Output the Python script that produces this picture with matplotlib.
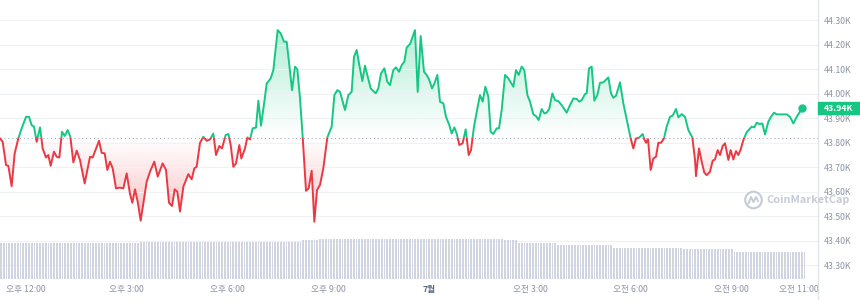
import numpy as np
import matplotlib
matplotlib.use("Agg")
import matplotlib.pyplot as plt
import matplotlib.colors as mcolors
from matplotlib.patches import Rectangle, Circle
from matplotlib.lines import Line2D
from matplotlib.path import Path
from matplotlib.transforms import IdentityTransform

# Korean labels need a CJK font, DejaVu as fallback
plt.rcParams['font.family'] = ['Noto Sans CJK KR', 'DejaVu Sans']

# Price trace (hours after 12:00 PM, price in thousands USD)
hours = [-0.774, -0.694, -0.595, -0.526, -0.427, -0.337, -0.228, -0.129, 0.000, 0.089,
         0.169, 0.238, 0.317, 0.417, 0.496, 0.595, 0.665, 0.734, 0.833, 0.913,
         0.992, 1.071, 1.151, 1.240, 1.319, 1.409, 1.508, 1.607, 1.746, 1.905,
         1.984, 2.173, 2.252, 2.341, 2.421, 2.500, 2.579, 2.679, 2.798, 2.897,
         2.996, 3.095, 3.165, 3.244, 3.323, 3.413, 3.591, 3.690, 3.819, 3.919, 4.067,
         4.167, 4.256, 4.345, 4.425, 4.504, 4.583, 4.683, 4.831, 4.931, 5.010,
         5.079, 5.179, 5.278, 5.377, 5.476, 5.575, 5.655, 5.754, 5.833, 5.942,
         6.022, 6.091, 6.171, 6.250, 6.349, 6.409, 6.518, 6.587, 6.667, 6.746,
         6.845, 6.915, 6.994, 7.093, 7.163, 7.282, 7.361, 7.490, 7.579, 7.679,
         7.758, 7.837, 7.917, 8.006, 8.075, 8.155, 8.234, 8.333, 8.413, 8.502,
         8.581, 8.661, 8.750,
         8.849, 8.968, 9.097, 9.177, 9.266, 9.345, 9.494, 9.593, 9.692, 9.762,
         9.841, 9.921, 10.010, 10.089, 10.159, 10.258, 10.407, 10.486, 10.565, 10.665,
         10.754, 10.833, 10.933, 11.012, 11.101, 11.181, 11.260, 11.329, 11.429, 11.577,
         11.657, 11.746, 11.845, 11.925, 12.004, 12.083, 12.153, 12.242, 12.321, 12.421,
         12.500, 12.599, 12.669, 12.748, 12.817, 12.897, 12.996, 13.085, 13.175, 13.244,
         13.333, 13.433, 13.512, 13.591,
         13.671, 13.760, 13.829, 13.909, 14.008, 14.077, 14.157, 14.256, 14.355, 14.504,
         14.583, 14.663, 14.752, 14.831, 14.921, 15.000, 15.099, 15.179, 15.258, 15.347,
         15.427, 15.496, 15.575, 15.665, 15.744, 15.843, 15.942, 16.091, 16.190, 16.290,
         16.389, 16.468, 16.538, 16.637, 16.687, 16.756, 16.835, 16.915, 17.004, 17.083,
         17.183, 17.331, 17.411, 17.480, 17.560, 17.679, 17.778, 17.996, 18.075, 18.155,
         18.254, 18.353,
         18.403, 18.452, 18.512, 18.591, 18.671, 18.750, 18.819, 18.899, 18.988, 19.067,
         19.167, 19.246, 19.345, 19.415, 19.514, 19.613, 19.712, 19.831, 19.911, 19.940,
         20.030, 20.109, 20.188, 20.258, 20.357, 20.437, 20.506, 20.585, 20.655, 20.734,
         20.804, 20.903, 20.972, 21.052, 21.131, 21.200, 21.270, 21.349, 21.448, 21.597,
         21.677, 21.746, 21.825, 21.915, 21.994, 22.093, 22.173, 22.262, 22.341, 22.490,
         22.639, 22.738, 22.837, 22.937, 23.016, 23.105]

price = [43.817, 43.803, 43.708, 43.705, 43.622, 43.756, 43.817, 43.858, 43.905, 43.905,
         43.871, 43.865, 43.803, 43.862, 43.776, 43.739, 43.749, 43.705, 43.763, 43.742,
         43.739, 43.844, 43.827, 43.851, 43.824, 43.719, 43.767, 43.729, 43.633, 43.742,
         43.739, 43.807, 43.758, 43.756, 43.688, 43.722, 43.695, 43.613, 43.616, 43.613,
         43.674, 43.590, 43.554, 43.609, 43.559, 43.481, 43.640, 43.681, 43.722, 43.661, 43.715,
         43.688, 43.554, 43.541, 43.609, 43.599, 43.518, 43.620, 43.671, 43.650, 43.695,
         43.701, 43.799, 43.824, 43.807, 43.813, 43.837, 43.749, 43.786, 43.776, 43.831,
         43.835, 43.790, 43.701, 43.715, 43.790, 43.735, 43.776, 43.821, 43.813, 43.858,
         43.861, 43.971, 43.869, 43.967, 44.041, 44.062, 44.096, 44.259, 44.246, 44.212,
         44.212, 44.116, 44.014, 44.110, 44.099, 43.980, 43.824, 43.603, 43.613, 43.685,
         43.477, 43.606, 43.627,
         43.695, 43.821, 43.865, 43.994, 44.014, 44.007, 43.933, 43.994, 44.007, 44.150,
         44.178, 44.116, 44.051, 44.114, 44.076, 44.021, 44.001, 44.021, 44.082, 44.103,
         44.048, 44.035, 44.096, 44.107, 44.089, 44.116, 44.130, 44.188, 44.202, 44.259,
         44.007, 44.235, 44.089, 44.076, 44.055, 44.021, 44.041, 44.076, 43.967, 43.960,
         43.905, 43.871, 43.837, 43.862, 43.837, 43.790, 43.797, 43.854, 43.749, 43.769,
         43.865, 43.939, 43.994, 43.967,
         44.028, 43.987, 43.844, 43.835, 43.858, 43.858, 43.933, 44.076, 44.062, 44.028,
         44.096, 44.076, 44.110, 44.096, 43.994, 43.967, 43.915, 43.908, 43.892, 43.937,
         43.919, 43.922, 43.939, 44.001, 43.973, 43.969, 43.953, 43.922, 43.953, 43.980,
         43.978, 43.967, 43.973, 43.998, 44.001, 44.103, 44.110, 43.971, 43.994, 44.044,
         44.046, 44.066, 44.001, 43.983, 43.991, 44.046, 43.960, 43.817, 43.776, 43.817,
         43.821, 43.835,
         43.813, 43.799, 43.814, 43.688, 43.735, 43.742, 43.799, 43.799, 43.817, 43.865,
         43.905, 43.910, 43.937, 43.903, 43.916, 43.905, 43.851, 43.821, 43.729, 43.663,
         43.776, 43.722, 43.677, 43.667, 43.681, 43.726, 43.731, 43.769, 43.749, 43.786,
         43.797, 43.729, 43.769, 43.731, 43.765, 43.749, 43.772, 43.810, 43.842, 43.865,
         43.862, 43.881, 43.876, 43.878, 43.833, 43.885, 43.905, 43.922, 43.915, 43.915,
         43.915, 43.905, 43.878, 43.905, 43.922, 43.941]

open_price = 43.817  # dotted reference line

# 24h volume (billions), stored as levels and how many 5-minute bars hold each level
vol_levels = [21.8, 22.2, 22.5, 23.4, 24.0, 23.4, 21.6, 20.4, 18.9, 18.0, 16.5]
vol_counts = [50, 40, 18, 6, 66, 5, 14, 20, 25, 18, 26]

tick_hours = [0, 3, 6, 9, 12, 15, 18, 21, 23]
tick_labels = ['오후 12:00', '오후 3:00', '오후 6:00', '오후 9:00', '7월',
               '오전 3:00', '오전 6:00', '오전 9:00', '오전 11:00']
price_ticks = [43.3, 43.4, 43.5, 43.6, 43.7, 43.8, 43.9, 44.0, 44.1, 44.2, 44.3]

GREEN = '#16c784'
RED = '#ea3943'
GREY = '#8d94a6'

t = np.array(hours)
p = np.array(price)
xlim = (-0.774, 23.571)
ylim = (43.243, 44.382)

fig = plt.figure(figsize=(8.6, 3.0), dpi=100)
ax = fig.add_axes([0, 0.07, 818 / 860, 0.93])
# volume lives on a twin axis; twinx moves the price ticks left, so it is made first
ax2 = ax.twinx()


def gradient_fill(above, color):
    # soft fill between the line and the open price, fading toward the open price
    if above:
        fb = ax.fill_between(t, p, open_price, where=p >= open_price, interpolate=True,
                             facecolor='none', edgecolor='none')
        lo, hi = open_price, p.max()
        alphas = np.linspace(0.0, 0.32, 200)
    else:
        fb = ax.fill_between(t, p, open_price, where=p <= open_price, interpolate=True,
                             facecolor='none', edgecolor='none')
        lo, hi = p.min(), open_price
        alphas = np.linspace(0.32, 0.0, 200)
    img = np.zeros((200, 1, 4))
    img[:, 0, :3] = mcolors.to_rgb(color)
    img[:, 0, 3] = alphas
    im = ax.imshow(img, extent=[t.min(), t.max(), lo, hi], origin='lower',
                   aspect='auto', zorder=1, interpolation='bilinear')
    im.set_clip_path(Path.make_compound_path(*fb.get_paths()), transform=ax.transData)


gradient_fill(True, GREEN)
gradient_fill(False, RED)

# line: green above the open price, red below
up_clip = Rectangle((-5, open_price), 40, 5, transform=ax.transData)
down_clip = Rectangle((-5, open_price - 5), 40, 5, transform=ax.transData)
line_up, = ax.plot(t, p, color=GREEN, lw=1.4, zorder=3)
line_up.set_clip_path(up_clip)
line_down, = ax.plot(t, p, color=RED, lw=1.4, zorder=3)
line_down.set_clip_path(down_clip)
ax.plot(t[-1], p[-1], 'o', color=GREEN, ms=5, zorder=4, clip_on=False)

ax.axhline(open_price, color='#a6adbd', lw=0.8, ls=(0, (1, 2.5)), zorder=2)

ax.set_xlim(*xlim)
ax.set_ylim(*ylim)
ax.yaxis.tick_right()
ax.set_yticks(price_ticks)
ax.set_yticklabels([f'{v:.2f}K' for v in price_ticks])
ax.set_xticks(tick_hours)
ax.set_xticklabels(tick_labels)
ax.tick_params(axis='y', which='both', left=False, labelleft=False, right=False,
               labelright=True, length=0, pad=4.5, labelsize=6.3, labelcolor=GREY)
ax.tick_params(axis='x', length=0, pad=4, labelsize=6.3, labelcolor=GREY)
for lab in ax.get_xticklabels():
    if lab.get_text() == '7월':
        lab.set_color('#58667e')
        lab.set_fontweight('bold')
ax.grid(axis='y', color='#eff2f5', lw=0.8, zorder=0)
for s in ax.spines.values():
    s.set_visible(False)

# volume bars along the bottom
volume = np.repeat(vol_levels, vol_counts)
bar_t = t[0] + np.arange(len(volume)) / 12.0
ax2.bar(bar_t, volume, width=0.055, color='#d0d5e1', align='edge', lw=0)
ax2.set_ylim(0, 167.4)
ax2.set_xlim(*xlim)
ax2.set_yticks([])
ax2.tick_params(axis='y', right=False, labelright=False, left=False, labelleft=False)
for s in ax2.spines.values():
    s.set_visible(False)

# right border line
fig.add_artist(Line2D([818, 818], [0, 300], transform=IdentityTransform(),
                      color='#dfe3ea', lw=0.9))

# last price badge
_, yb = ax.transData.transform((t[-1], p[-1]))
fig.add_artist(Rectangle((818, yb - 5.8), 42, 11.6, transform=IdentityTransform(),
                         color=GREEN, zorder=10))
fig.text(839, yb, f'{p[-1]:.2f}K', transform=IdentityTransform(), color='white',
         fontsize=6.3, fontweight='bold', ha='center', va='center', zorder=11)

# watermark
wm = '#c6cbd6'
fig.add_artist(Circle((753.5, 100), 8.3, transform=IdentityTransform(),
                      fill=False, ec=wm, lw=1.5))
wx = [748.5, 751, 753.5, 756, 758]
wy = [96.5, 103, 98, 103, 99]
fig.add_artist(Line2D(wx, wy, transform=IdentityTransform(), color=wm, lw=1.4))
fig.text(766, 100, 'CoinMarketCap', transform=IdentityTransform(), color=wm,
         fontsize=7.9, fontweight='bold', ha='left', va='center')

fig.savefig('out.png', dpi=100)
